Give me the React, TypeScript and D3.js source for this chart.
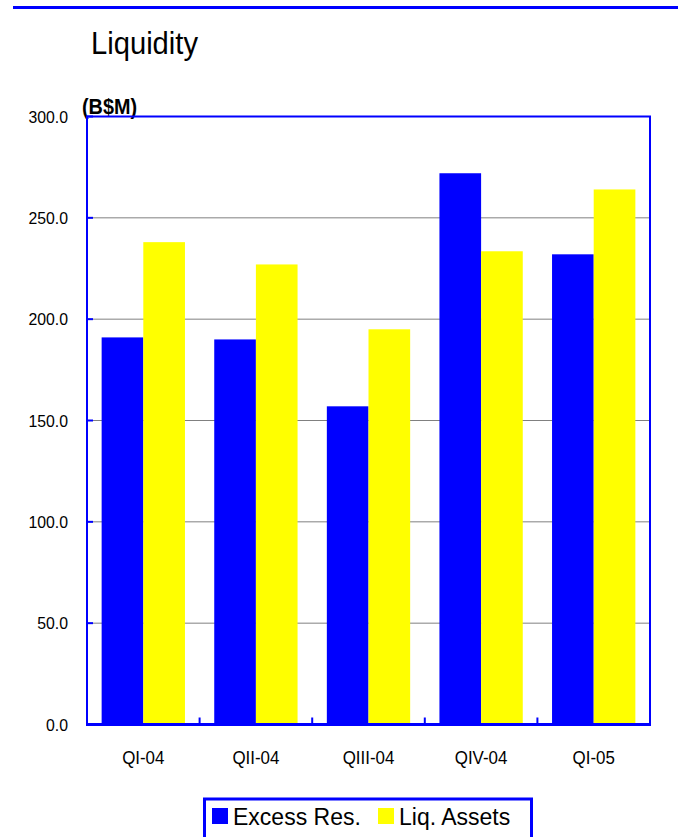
import { useEffect, useRef } from "react";
import * as d3 from "d3";

const categories = ["QI-04", "QII-04", "QIII-04", "QIV-04", "QI-05"];
const excessRes = [191, 190, 157, 272, 232];
const liqAssets = [238, 227, 195, 233.5, 264];
const yTicks = [0, 50, 100, 150, 200, 250, 300];

const BLUE = "#0000ff";
const YELLOW = "#ffff00";
const FONT = "'Liberation Sans', Arial, sans-serif";

// squeeze text horizontally to mimic the narrow face of the original
const narrow = (sel: d3.Selection<SVGTextElement, any, any, any>, ratio: number) => {
  sel.each(function () {
    const w = this.getComputedTextLength();
    d3.select(this).attr("textLength", w * ratio).attr("lengthAdjust", "spacingAndGlyphs");
  });
};

const Liquidity = () => {
  const svgRef = useRef<SVGSVGElement>(null);

  useEffect(() => {
    if (!svgRef.current) return;
    const svg = d3.select(svgRef.current);
    svg.selectAll("*").remove();

    const left = 87;
    const right = 650;
    const top = 116.5;
    const bottom = 724.5;

    const x0 = d3.scaleBand().domain(categories).range([left, right]).padding(0);
    const groupW = x0.bandwidth() * 0.74;
    const x1 = d3
      .scaleBand()
      .domain(["excess", "liq"])
      .range([(x0.bandwidth() - groupW) / 2, (x0.bandwidth() + groupW) / 2])
      .padding(0);
    const y = d3.scaleLinear().domain([0, 300]).range([bottom, top]);

    // top rule
    svg
      .append("rect")
      .attr("x", 13)
      .attr("y", 6)
      .attr("width", 665)
      .attr("height", 3)
      .attr("fill", BLUE);

    // title + unit
    svg
      .append("text")
      .attr("x", 91)
      .attr("y", 54)
      .attr("textLength", 107)
      .attr("lengthAdjust", "spacingAndGlyphs")
      .text("Liquidity")
      .style("font-family", FONT)
      .style("font-size", "30.5px")
      .style("fill", "#000");

    svg
      .append("text")
      .attr("x", 82)
      .attr("y", 113.5)
      .attr("textLength", 55)
      .attr("lengthAdjust", "spacingAndGlyphs")
      .text("(B$M)")
      .style("font-family", FONT)
      .style("font-size", "22px")
      .style("font-weight", "bold")
      .style("fill", "#000");

    // grid lines
    svg
      .append("g")
      .selectAll("line")
      .data(yTicks.filter((t) => t > 0 && t < 300))
      .join("line")
      .attr("x1", left)
      .attr("x2", right)
      .attr("y1", (d) => y(d))
      .attr("y2", (d) => y(d))
      .attr("stroke", "#808080")
      .attr("stroke-width", 1);

    // bars
    const rows = categories.map((c, i) => ({ c, excess: excessRes[i], liq: liqAssets[i] }));
    const groups = svg
      .append("g")
      .selectAll("g")
      .data(rows)
      .join("g")
      .attr("transform", (d) => `translate(${x0(d.c)},0)`);

    (["excess", "liq"] as const).forEach((key) => {
      groups
        .append("rect")
        .attr("x", x1(key) || 0)
        .attr("y", (d) => y(d[key]))
        .attr("width", x1.bandwidth())
        .attr("height", (d) => bottom - y(d[key]))
        .attr("fill", key === "excess" ? BLUE : YELLOW);
    });

    // plot frame
    svg
      .append("rect")
      .attr("x", left)
      .attr("y", top)
      .attr("width", right - left)
      .attr("height", bottom - top)
      .attr("fill", "none")
      .attr("stroke", BLUE)
      .attr("stroke-width", 2);

    svg
      .append("line")
      .attr("x1", left - 1)
      .attr("x2", right + 1)
      .attr("y1", bottom)
      .attr("y2", bottom)
      .attr("stroke", BLUE)
      .attr("stroke-width", 3);

    // y ticks (inside) and labels
    const yAxis = svg.append("g");
    yAxis
      .selectAll("line")
      .data(yTicks)
      .join("line")
      .attr("x1", left)
      .attr("x2", left + 6)
      .attr("y1", (d) => y(d))
      .attr("y2", (d) => y(d))
      .attr("stroke", BLUE)
      .attr("stroke-width", 2);
    const yLabels = yAxis
      .selectAll<SVGTextElement, number>("text")
      .data(yTicks)
      .join("text")
      .attr("x", 68)
      .attr("y", (d) => y(d) + 6)
      .attr("text-anchor", "end")
      .text((d) => d3.format(".1f")(d))
      .style("font-family", FONT)
      .style("font-size", "17px")
      .style("fill", "#000");
    narrow(yLabels, 0.93);

    // x ticks between categories and labels
    const xAxis = svg.append("g");
    xAxis
      .selectAll("line")
      .data(categories.slice(1))
      .join("line")
      .attr("x1", (d) => x0(d) || 0)
      .attr("x2", (d) => x0(d) || 0)
      .attr("y1", bottom)
      .attr("y2", bottom - 7)
      .attr("stroke", BLUE)
      .attr("stroke-width", 2);
    const xLabels = xAxis
      .selectAll<SVGTextElement, string>("text")
      .data(categories)
      .join("text")
      .attr("x", (d) => (x0(d) || 0) + x0.bandwidth() / 2)
      .attr("y", 764)
      .attr("text-anchor", "middle")
      .text((d) => d)
      .style("font-family", FONT)
      .style("font-size", "19px")
      .style("fill", "#000");
    narrow(xLabels, 0.89);

    // legend
    const legend = svg.append("g");
    legend
      .append("rect")
      .attr("x", 204.5)
      .attr("y", 799)
      .attr("width", 327)
      .attr("height", 50)
      .attr("fill", "#fff")
      .attr("stroke", BLUE)
      .attr("stroke-width", 3);

    const legendData = [
      { label: "Excess Res.", color: BLUE, x: 212 },
      { label: "Liq. Assets", color: YELLOW, x: 378 },
    ];
    legendData.forEach(({ label, color, x }) => {
      legend
        .append("rect")
        .attr("x", x)
        .attr("y", 808)
        .attr("width", 16)
        .attr("height", 16)
        .attr("fill", color);
      legend
        .append("text")
        .attr("x", x + 21)
        .attr("y", 825)
        .text(label)
        .style("font-family", FONT)
        .style("font-size", "23px")
        .style("fill", "#000");
    });
  }, []);

  return (
    <div style={{ position: "absolute", left: 0, top: 0, width: 678, height: 837, background: "#fff" }}>
      <svg ref={svgRef} width={678} height={837} style={{ display: "block" }} />
    </div>
  );
};

export default Liquidity;
